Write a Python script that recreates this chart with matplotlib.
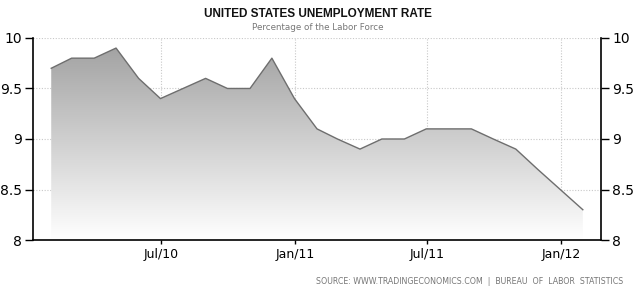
import numpy as np
import pandas as pd
import matplotlib
matplotlib.use('Agg')
import matplotlib.pyplot as plt
import matplotlib.dates as mdates
from matplotlib.colors import LinearSegmentedColormap

# monthly US unemployment rate, Jan 2010 - Jan 2012 (plotted at month end)
months = pd.date_range('2010-01-31', '2012-01-31', freq='ME')
rate = [9.7, 9.8, 9.8, 9.9, 9.6, 9.4, 9.5, 9.6, 9.5, 9.5, 9.8, 9.4,
        9.1, 9.0, 8.9, 9.0, 9.0, 9.1, 9.1, 9.1, 9.0, 8.9, 8.7, 8.5, 8.3]
xtick_dates = pd.to_datetime(['2010-07-01', '2011-01-01', '2011-07-01', '2012-01-01'])
xtick_labels = ['Jul/10', 'Jan/11', 'Jul/11', 'Jan/12']
yticks = [8, 8.5, 9, 9.5, 10]
ytick_labels = ['8', '8.5', '9', '9.5', '10']

fig = plt.figure(figsize=(6.35, 2.92), dpi=100)
ax = fig.add_axes([0.052, 0.178, 0.8945, 0.692])

x0 = mdates.date2num(pd.Timestamp('2010-01-06'))
x1 = mdates.date2num(pd.Timestamp('2012-02-25'))
ax.set_xlim(x0, x1)
ax.set_ylim(8, 10)

# gradient area under the line
poly = ax.fill_between(months, rate, 8, color='none', lw=0)
cmap = LinearSegmentedColormap.from_list('g', ['#ffffff', '#9e9e9e'])
grad = np.linspace(0, 1, 256).reshape(-1, 1)
img = ax.imshow(grad, cmap=cmap, aspect='auto', origin='lower',
                extent=[x0, x1, 8, 10], zorder=1)
img.set_clip_path(poly.get_paths()[0], transform=ax.transData)
ax.plot(months, rate, color='#6e6e6e', lw=1, zorder=3)

ax.set_xticks(mdates.date2num(xtick_dates))
ax.set_xticklabels(xtick_labels)
ax.set_yticks(yticks)
ax.set_yticklabels(ytick_labels)
ax.grid(True, color='#c8c8c8', linestyle=(0, (1, 1.5)), lw=0.8)
ax.set_axisbelow(True)

ax.spines['top'].set_visible(False)
for s in ['left', 'right', 'bottom']:
    ax.spines[s].set_linewidth(1.2)
ax.tick_params(axis='y', which='both', left=True, right=True,
               labelleft=True, labelright=True, length=6, width=1,
               labelsize=10, pad=2)
ax.tick_params(axis='x', length=3, width=1, labelsize=9, pad=3)

fig.text(0.5, 0.952, 'UNITED STATES UNEMPLOYMENT RATE', ha='center', va='center',
         fontsize=8.5, fontweight='bold', color='#111111', family='Liberation Sans')
fig.text(0.5, 0.905, 'Percentage of the Labor Force', ha='center', va='center',
         fontsize=6.3, color='#777777')
fig.text(0.982, 0.035, 'SOURCE: WWW.TRADINGECONOMICS.COM  |  BUREAU  OF  LABOR  STATISTICS',
         ha='right', va='center', fontsize=5.7, color='#777777')

fig.savefig('out.png', dpi=100)
